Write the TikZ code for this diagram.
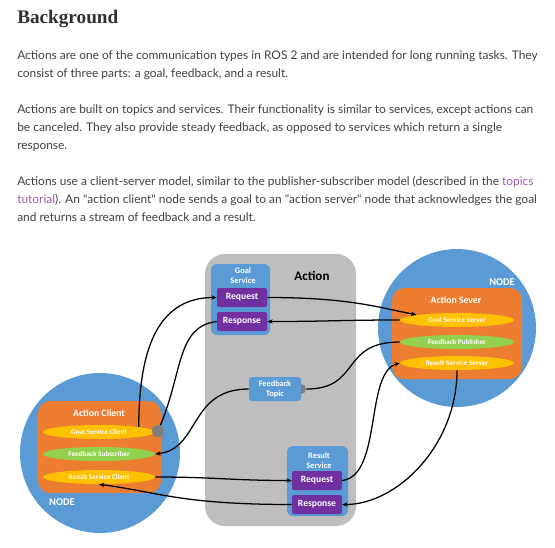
\documentclass[tikz,border=0pt]{standalone}
\usepackage{fontspec}
\setmainfont{Lato}
\newfontfamily\carlito{Carlito}
\newfontfamily\titlefont{Liberation Serif}
\usetikzlibrary{shapes.geometric,arrows.meta}
\definecolor{nodeblue}{HTML}{5B9BD5}
\definecolor{boxorange}{HTML}{ED7D31}
\definecolor{goalyellow}{HTML}{FFC000}
\definecolor{fbgreen}{HTML}{92D050}
\definecolor{purplebox}{HTML}{7030A0}
\definecolor{actiongray}{HTML}{BFBEBF}
\definecolor{dotgray}{HTML}{7F7F7F}
\definecolor{bodytext}{HTML}{404040}
\definecolor{titletext}{HTML}{2F2F2F}
\definecolor{linkpurple}{HTML}{9B59B6}
\tikzset{
  bodyline/.style={anchor=base west, inner sep=0pt, text=bodytext, font=\fontsize{8.95}{11}\selectfont},
  titleline/.style={anchor=base west, inner sep=0pt, text=titletext, font=\titlefont\bfseries\fontsize{14.4}{16}\selectfont},
  rosnode/.style={circle, fill=nodeblue, inner sep=0pt, minimum size=#1*0.75pt},
  orangebox/.style={rectangle, rounded corners=12*0.75pt, fill=boxorange, inner sep=0pt},
  item/.style={ellipse, fill=#1, inner sep=0pt, minimum width=114*0.75pt, minimum height=14*0.75pt, text=white, font=\carlito\bfseries\fontsize{5.4}{6}\selectfont},
  bluebox/.style={rectangle, rounded corners=6*0.75pt, fill=nodeblue, inner sep=0pt},
  purplebox/.style={rectangle, rounded corners=2*0.75pt, fill=purplebox, inner sep=0pt, minimum width=50*0.75pt, minimum height=19*0.75pt, text=white, font=\carlito\bfseries\fontsize{7.2}{8}\selectfont},
  whitelabel/.style={text=white, inner sep=0pt, font=\carlito\bfseries\fontsize{#1}{#1}\selectfont, align=center},
  conn/.style={draw=black, line width=0.95pt},
  arr/.style={conn, -{Stealth[length=4pt,width=3.2pt]}},
}
\begin{document}
\begin{tikzpicture}[x=0.75pt,y=-0.75pt]
\useasboundingbox (0,0) rectangle (555,547);
% text
\node[titleline] (title) at (17,23) {Background};
\node[bodyline] (l1) at (17,59) {Actions are one of the communication types in ROS 2 and are intended for long running tasks. They};
\node[bodyline] (l2) at (17,77) {consist of three parts: a goal, feedback, and a result.};
\node[bodyline] (l3) at (17,113) {Actions are built on topics and services. Their functionality is similar to services, except actions can};
\node[bodyline] (l4) at (17,131) {be canceled. They also provide steady feedback, as opposed to services which return a single};
\node[bodyline] (l5) at (17,149) {response.};
\node[bodyline] (l6) at (17,185) {Actions use a client-server model, similar to the publisher-subscriber model (described in the \textcolor{linkpurple}{topics}};
\node[bodyline] (l7) at (17,203) {\textcolor{linkpurple}{tutorial}). An \textquotedbl action client\textquotedbl\ node sends a goal to an \textquotedbl action server\textquotedbl\ node that acknowledges the goal};
\node[bodyline] (l8) at (17,221) {and returns a stream of feedback and a result.};

% Action gray box
\node[rectangle, rounded corners=20*0.75pt, fill=actiongray, minimum width=151*0.75pt, minimum height=272*0.75pt, inner sep=0pt] (action) at (280.5,390) {};
\node[inner sep=0pt, font=\carlito\bfseries\fontsize{9.8}{10}\selectfont] (actionlbl) at (312,276) {Action};

% Goal service
\node[bluebox, minimum width=59*0.75pt, minimum height=71*0.75pt] (goalsrv) at (240.5,299.5) {};
\node[whitelabel=6.3] (goallbl) at (243,275.5) {Goal\\[1.2pt]Service};
\node[purplebox] (greq) at (242,297.5) {Request};
\node[purplebox] (gresp) at (242,321.5) {Response};

% Feedback topic
\node[circle, fill=dotgray, minimum size=10*0.75pt, inner sep=0pt] (fbdot) at (301,389) {};
\node[bluebox, rounded corners=3*0.75pt, minimum width=52*0.75pt, minimum height=24*0.75pt] (fbtopic) at (275,389) {};
\node[whitelabel=6.2] (fblbl) at (275,389) {Feedback\\[1.2pt]Topic};

% Result service
\node[bluebox, minimum width=61*0.75pt, minimum height=70*0.75pt] (ressrv) at (317.5,481) {};
\node[whitelabel=6.3] (reslbl) at (319,461) {Result\\[1.2pt]Service};
\node[purplebox] (rreq) at (317,480.5) {Request};
\node[purplebox] (rresp) at (317,504.5) {Response};

% Right node (server)
\node[rosnode=158] (srvnode) at (457,328) {};
\node[whitelabel=7.8] (srvnodelbl) at (502,282) {NODE};
\node[orangebox, minimum width=130*0.75pt, minimum height=91*0.75pt] (srvbox) at (457,333.5) {};
\node[whitelabel=7.3] (srvlbl) at (456,300) {Action Sever};
\node[item=goalyellow] (gss) at (457,320) {Goal Service Server};
\node[item=fbgreen] (fp) at (457,342) {Feedback Publisher};
\node[item=goalyellow] (rss) at (457,363) {Result Service Server};

% Left node (client)
\node[rosnode=160] (clinode) at (100,453) {};
\node[whitelabel=7.8] (clinodelbl) at (62,502) {NODE};
\node[orangebox, minimum width=123*0.75pt, minimum height=92*0.75pt] (clibox) at (99.5,447) {};
\node[whitelabel=7.3] (clilbl) at (99,413) {Action Client};
\node[item=goalyellow, minimum width=112*0.75pt] (gsc) at (99,432) {Goal Service Client};
\node[item=fbgreen, minimum width=112*0.75pt] (fs) at (99,454) {Feedback Subscriber};
\node[item=goalyellow, minimum width=112*0.75pt] (rsc) at (99,477) {Result Service Client};
\node[circle, fill=dotgray, minimum size=12*0.75pt, inner sep=0pt] (gdot) at (158,431) {};

% connectors
\draw[arr] (gsc.north east) .. controls +(0,-85) and +(-55,0) .. (greq.west);
\draw[conn] (gresp.west) .. controls +(-40,5) and +(25,-60) .. (gdot);
\draw[arr] (greq.east) .. controls +(80,0) and +(-40,-8) .. (gss.north west);
\draw[arr] (gss.west) .. controls +(-60,0) and +(60,0) .. (gresp.east);
\draw[conn] (fp.west) .. controls +(-60,0) and +(55,0) .. (fbdot.east);
\draw[arr] (fbtopic.west) .. controls +(-60,0) and +(45,-5) .. (fs.east);
\draw[arr] (rsc.east) .. controls +(60,0) and +(-60,0) .. (rreq.west);
\draw[arr] (rreq.east) .. controls +(40,-5) and +(-35,10) .. (rss.west);
\draw[arr] (rss.south) .. controls +(0,75) and +(55,0) .. (rresp.east);
\draw[arr] (rresp.west) .. controls +(-110,0) and +(60,8) .. (rsc.south);
\end{tikzpicture}
\end{document}
